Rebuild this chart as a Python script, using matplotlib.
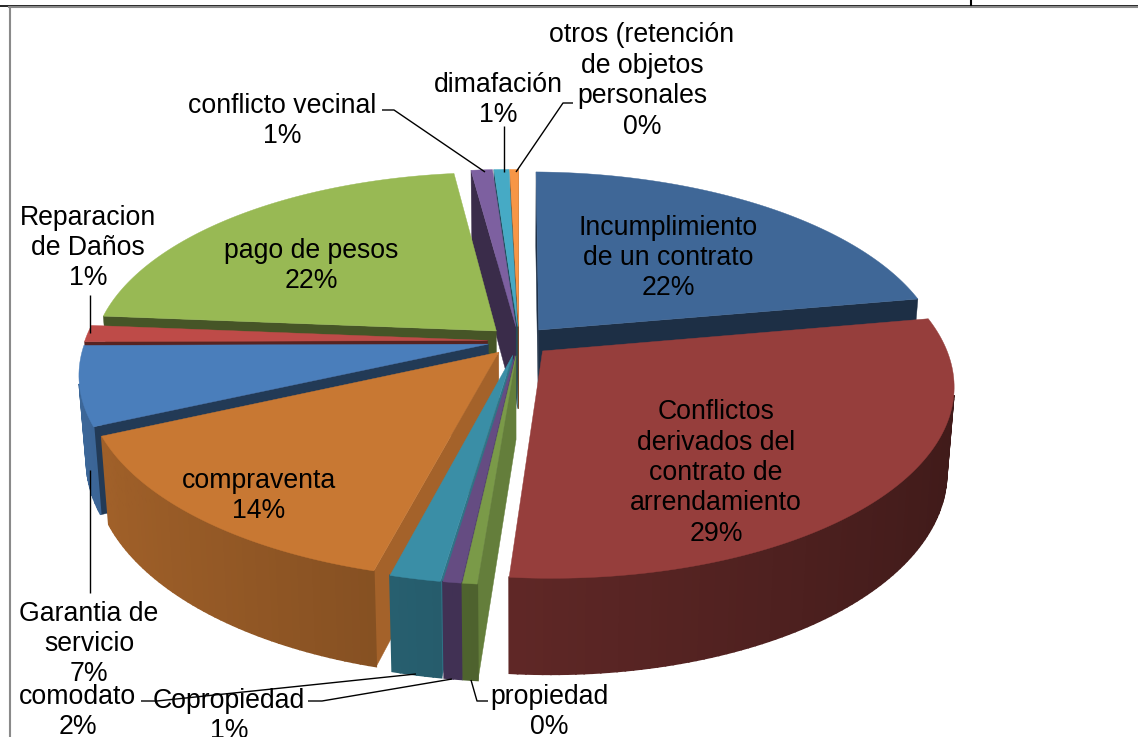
import numpy as np
import matplotlib
matplotlib.use("Agg")
import matplotlib.pyplot as plt
from matplotlib.colors import to_rgb

plt.rcParams['font.family'] = ['Liberation Sans', 'DejaVu Sans']

# datos (porcentajes)
categorias = ["Incumplimiento\nde un contrato", "Conflictos\nderivados del\ncontrato de\narrendamiento",
              "propiedad", "Copropiedad", "comodato", "compraventa", "Garantia de\nservicio",
              "Reparacion\nde Daños", "pago de pesos", "conflicto vecinal", "dimafación",
              "otros (retención\nde objetos\npersonales"]
valores = [22.0, 29.25, 0.49, 0.6, 1.7, 14.05, 6.6, 1.4, 21.8, 1.0, 0.7, 0.41]
colores = ["#3F6797", "#963E3C", "#7A9A48", "#654C82", "#3A8EA6", "#C87833",
           "#4A7EBB", "#BE4B48", "#98B954", "#7D60A0", "#46AAC5", "#F79646"]

# posicion del texto de cada etiqueta (centro, en pixeles)
pos_etiquetas = [(668, 258), (716, 473), (549, 712), (229, 716), (78, 712), (259, 496),
                 (89, 644), (88, 248), (311, 266), (282, 121), (498, 100), (642, 81)]

# lineas guia
guias = [[(382, 110), (394, 110), (485, 172)],
         [(504, 126), (504, 172)],
         [(573, 103), (563, 103), (516, 172)],
         [(90, 470), (90, 593)],
         [(90, 295), (90, 333)],
         [(141, 701), (157, 701), (416, 674)],
         [(308, 701), (322, 701), (452, 679)],
         [(471, 680), (477, 701), (488, 701)]]

# parametros de la vista 3D
cx, cy = 519, 341
a, b = 402, 187
k = 0.162
explode = 0.078
alto = 83
f_base = 0.983
giro = 0.006


def proyectar(u, v, base=False):
    s = 1 / (1 - k * v)
    x = a * u * s
    y = b * v * s + giro * a * u
    if base:
        return cx + x * f_base, cy + y * f_base + alto * s
    return cx + x, cy + y


def area_quad(qx, qy):
    return sum(qx[n] * qy[(n + 1) % 4] - qx[(n + 1) % 4] * qy[n] for n in range(4))


def oscurecer(color, factor):
    return tuple(c * factor for c in to_rgb(color))


fig = plt.figure(figsize=(11.38, 7.37), dpi=100)
ax = fig.add_axes([0, 0, 1, 1])
ax.set_xlim(0, 1138)
ax.set_ylim(737, 0)
ax.axis('off')

# marco de la tabla y del grafico
ax.plot([0, 1138], [5.5, 5.5], color='black', lw=1.2, zorder=1)
ax.plot([9, 1138], [7, 7], color='#8a8a8a', lw=1.5, zorder=1)
ax.plot([10, 10], [7, 737], color='#8a8a8a', lw=1.5, zorder=1)
ax.plot([971, 971], [0, 5], color='black', lw=1.5, zorder=1)

# angulos de cada porcion, en sentido horario desde arriba
total = sum(valores)
fin = np.cumsum(valores) / total * 2 * np.pi
inicio = np.r_[0, fin[:-1]]
medio = (inicio + fin) / 2

orden = np.argsort(-np.cos(medio))
z = 2
for i in orden:
    ou, ov = explode * np.sin(medio[i]), -explode * np.cos(medio[i])
    t = np.linspace(inicio[i], fin[i], max(int(np.degrees(fin[i] - inicio[i])), 2) + 1)
    u, v = ou + np.sin(t), ov - np.cos(t)
    xs, ys = proyectar(u, v)
    xb, yb = proyectar(u, v, True)
    x0, y0 = proyectar(ou, ov)
    x0b, y0b = proyectar(ou, ov, True)

    # paredes radiales, solo las que miran al observador
    for ang, n, signo in [(inicio[i], 0, -1), (fin[i], -1, 1)]:
        qx = [x0, xs[n], xb[n], x0b]
        qy = [y0, ys[n], yb[n], y0b]
        if area_quad(qx, qy) * signo <= 0:
            continue
        sombra = 0.82 if 170 < np.degrees(ang) < 215 else 0.46
        ax.fill(qx, qy, color=oscurecer(colores[i], sombra), lw=0.3, zorder=z)
    z += 1

    # pared exterior con degradado
    for j in range(len(t) - 1):
        qx = [xs[j], xs[j + 1], xb[j + 1], xb[j]]
        qy = [ys[j], ys[j + 1], yb[j + 1], yb[j]]
        if area_quad(qx, qy) >= 0:
            continue
        sombra = 0.62 - 0.2 * np.sin((t[j] + t[j + 1]) / 2)
        ax.fill(qx, qy, color=oscurecer(colores[i], sombra), lw=1.2, zorder=z)
    z += 1

    # cara superior
    ax.fill(np.r_[x0, xs], np.r_[y0, ys], color=colores[i], lw=0.3, zorder=z)
    z += 1

for g in guias:
    gx, gy = zip(*g)
    ax.plot(gx, gy, color='black', lw=1.0, zorder=z, solid_capstyle='butt')
z += 1

for nombre, valor, (px, py) in zip(categorias, valores, pos_etiquetas):
    ax.text(px, py, f"{nombre}\n{round(valor / total * 100)}%", ha='center', va='center',
            ma='center', fontsize=19.2, linespacing=1.22, color='black', zorder=z)

fig.savefig("out.png", dpi=100)
